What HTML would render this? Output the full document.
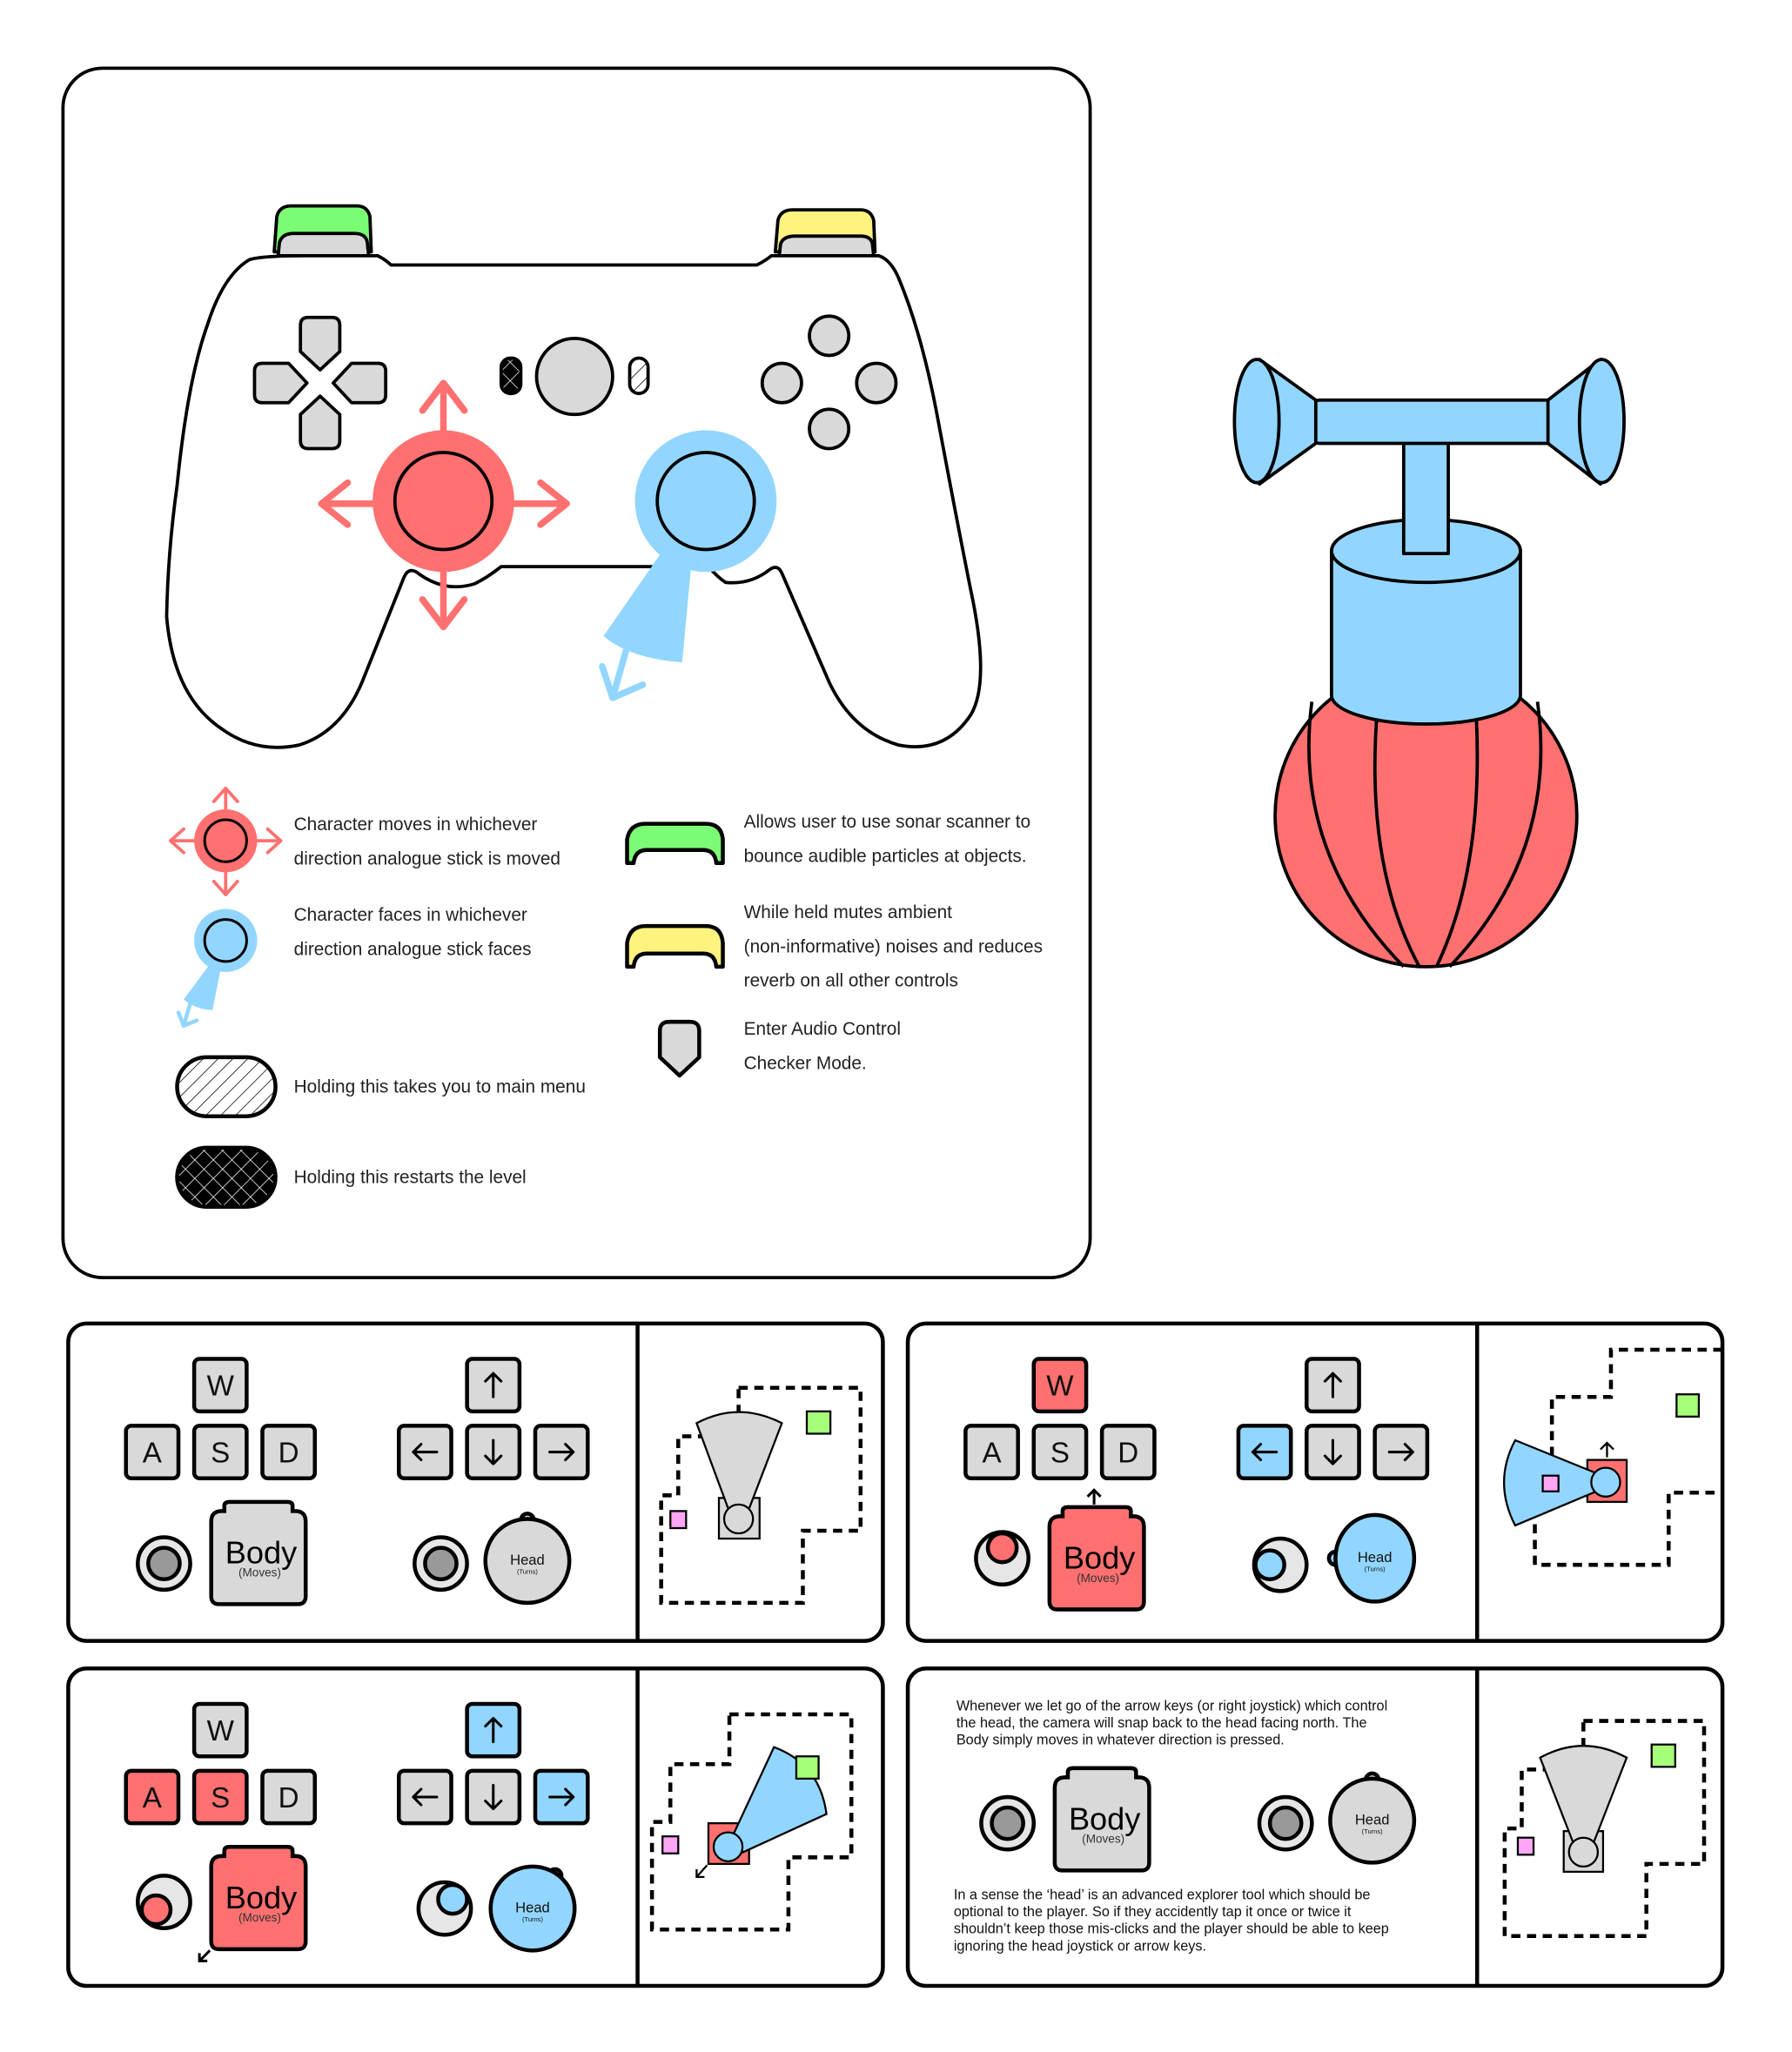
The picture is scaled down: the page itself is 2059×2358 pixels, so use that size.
<!DOCTYPE html>
<html><head><meta charset="utf-8"><style>html,body{margin:0;padding:0;background:#fff}svg{display:block}text{font-family:"Liberation Sans",sans-serif}</style></head><body>
<svg width="2059" height="2358" viewBox="0 0 1366 1564.4" xmlns="http://www.w3.org/2000/svg">
<defs>
<pattern id="hatch" width="8" height="8" patternUnits="userSpaceOnUse" patternTransform="rotate(45)"><rect width="8" height="8" fill="#fff"/><line x1="0" y1="0" x2="0" y2="8" stroke="#000" stroke-width="1"/></pattern>
<pattern id="cross" width="10" height="10" patternUnits="userSpaceOnUse" patternTransform="rotate(45)"><rect width="10" height="10" fill="#000"/><line x1="0" y1="0" x2="0" y2="10" stroke="#fff" stroke-width="1"/><line x1="0" y1="0" x2="10" y2="0" stroke="#fff" stroke-width="1"/></pattern>
<g id="body"><path d="M0,15 Q0,7 8,7 L10,7 L10,3 Q10,0 14,0 L58,0 Q62,0 62,3 L62,7 L64,7 Q72,7 72,15 L72,72 Q72,78 66,78 L6,78 Q0,78 0,72 Z" stroke="#000" stroke-width="3"/></g>
<g id="btxt"><text x="38" y="47" font-size="24" text-anchor="middle">Body</text><text x="37" y="57" font-size="9" text-anchor="middle" fill="#333">(Moves)</text></g>
<path id="arr" d="M0,9 V-9 M-6,-3 L0,-9 L6,-3" fill="none" stroke="#000" stroke-width="2" stroke-linecap="round" stroke-linejoin="round"/>
</defs>
<rect width="1366" height="1565" fill="#fff"/>
<g fill="none" stroke="#000" stroke-width="2.5" stroke-linejoin="round" stroke-linecap="round">
<rect x="48" y="52" width="783" height="922" rx="30"/>
<path d="M209,192 L211,165 Q213,157 222,157 L272,157 Q280,157 282,165 L283,192 Z" fill="#7cfc74"/>
<path d="M212,195 L213,185 Q215,178 224,178 L270,178 Q279,178 280,185 L281,195 Z" fill="#d9d9d9"/>
<path d="M591,192 L593,168 Q595,160 604,160 L656,160 Q664,160 666,168 L667,192 Z" fill="#fff380"/>
<path d="M594,195 L595,186 Q597,180 606,180 L656,180 Q664,180 665,186 L666,195 Z" fill="#d9d9d9"/>
<path d="M232,195 L288,195 Q294,198 298,202 L577,202 Q583,199 588,195 L670,195 Q679,198 685,212 Q703,255 715,320 Q730,400 740,450 Q755,520 740,545 Q720,575 685,568 Q650,558 632,520 L596,437 Q593,430 587,434 Q572,446 553,444 Q547,440 540,432 L382,432 Q372,440 362,445 Q340,452 320,438 Q312,431 308,440 L276,520 Q260,558 228,568 Q195,575 168,555 Q132,530 127,470 Q128,420 135,370 Q143,290 158,248 Q170,210 190,198 Q200,195 232,195 Z" fill="#fff"/>
<path d="M229,248 Q229,242 235,242 L253,242 Q259,242 259,248 L259,268 L244,282 L229,268 Z" fill="#d9d9d9"/>
<path d="M229,336 Q229,342 235,342 L253,342 Q259,342 259,336 L259,316 L244,302 L229,316 Z" fill="#d9d9d9"/>
<path d="M200,277 Q194,277 194,283 L194,301 Q194,307 200,307 L220,307 L234,292 L220,277 Z" fill="#d9d9d9"/>
<path d="M288,277 Q294,277 294,283 L294,301 Q294,307 288,307 L268,307 L254,292 L268,277 Z" fill="#d9d9d9"/>
<circle cx="438" cy="287" r="29" fill="#d9d9d9"/>
<rect x="382" y="273" width="15" height="27" rx="7" fill="url(#cross)"/>
<rect x="480" y="273" width="14" height="27" rx="7" fill="url(#hatch)"/>
<circle cx="632" cy="256" r="15" fill="#d9d9d9"/><circle cx="596" cy="292" r="15" fill="#d9d9d9"/><circle cx="668" cy="292" r="15" fill="#d9d9d9"/><circle cx="632" cy="327" r="15" fill="#d9d9d9"/>
</g>
<g stroke="#ff7070" stroke-width="5" fill="none" stroke-linecap="round" stroke-linejoin="round">
<path d="M338,292 V330 M322,313 L338,292 L354,313"/>
<path d="M338,478 V434 M322,457 L338,478 L354,457"/>
<path d="M245,384 H290 M265,368 L245,384 L265,400"/>
<path d="M432,384 H386 M412,368 L432,384 L412,400"/>
</g>
<circle cx="338" cy="382" r="54" fill="#ff7070"/>
<circle cx="338" cy="382" r="37" fill="#ff7070" stroke="#000" stroke-width="2.5"/>
<path d="M505,420 L460,485 Q480,502 520,505 L527,430 Z" fill="#92d6ff"/>
<g stroke="#92d6ff" stroke-width="5" fill="none" stroke-linecap="round" stroke-linejoin="round"><path d="M478,493 L467,532 M459,508 L467,532 L490,522"/></g>
<circle cx="538" cy="382" r="54" fill="#92d6ff"/>
<circle cx="538" cy="382" r="37" fill="#92d6ff" stroke="#000" stroke-width="2.5"/>
<g stroke="#ff7070" stroke-width="2.5" fill="none" stroke-linecap="round" stroke-linejoin="round">
<path d="M172,601 V620 M163,611 L172,601 L181,611 M172,682 V663 M163,672 L172,682 L181,672 M130,641 H150 M140,632 L130,641 L140,650 M214,641 H194 M204,632 L214,641 L204,650"/>
</g>
<circle cx="172" cy="641" r="24" fill="#ff7070"/>
<circle cx="172" cy="641" r="16" fill="#ff7070" stroke="#000" stroke-width="2"/>
<path d="M160,735 L140,762 Q150,770 162,770 L168,740 Z" fill="#92d6ff"/>
<path d="M145,765 L140,782 M136,772 L140,782 L150,778" stroke="#92d6ff" stroke-width="3" fill="none" stroke-linecap="round"/>
<circle cx="172" cy="717" r="24" fill="#92d6ff"/>
<circle cx="172" cy="717" r="16" fill="#92d6ff" stroke="#000" stroke-width="2"/>
<rect x="135" y="806" width="75" height="45" rx="22.5" fill="url(#hatch)" stroke="#000" stroke-width="3"/>
<rect x="135" y="875" width="75" height="45" rx="22.5" fill="url(#cross)" stroke="#000" stroke-width="3"/>
<g stroke="#000" stroke-width="3" stroke-linejoin="round">
<path d="M478,658 L478,640 Q480,628 492,628 L538,628 Q550,628 551,640 L551,658 L546,658 Q545,648 536,648 L493,648 Q484,648 483,658 Z" fill="#7cfc74"/>
<path d="M478,737 L478,719 Q480,706 492,706 L538,706 Q550,706 551,719 L551,737 L546,737 Q545,727 536,727 L493,727 Q484,727 483,737 Z" fill="#fff380"/>
<path d="M503,786 Q503,779 510,779 L526,779 Q533,779 533,786 L533,806 L518,820 L503,806 Z" fill="#d9d9d9"/>
</g>
<g font-size="13.8" fill="#222">
<text x="224" y="633">Character moves in whichever</text>
<text x="224" y="659">direction analogue stick is moved</text>
<text x="224" y="702">Character faces in whichever</text>
<text x="224" y="728">direction analogue stick faces</text>
<text x="224" y="833">Holding this takes you to main menu</text>
<text x="224" y="902">Holding this restarts the level</text>
<text x="567" y="631">Allows user to use sonar scanner to</text>
<text x="567" y="657">bounce audible particles at objects.</text>
<text x="567" y="700">While held mutes ambient</text>
<text x="567" y="726">(non-informative) noises and reduces</text>
<text x="567" y="752">reverb on all other controls</text>
<text x="567" y="789">Enter Audio Control</text>
<text x="567" y="815">Checker Mode.</text>
</g>
<g stroke="#000" stroke-width="2.5" stroke-linejoin="round">
<circle cx="1087" cy="622" r="115" fill="#ff7070"/>
<path d="M1000,535 Q985,650 1070,737 M1050,540 Q1040,660 1082,737 M1125,540 Q1132,660 1095,737 M1172,535 Q1188,650 1105,737" fill="none"/>
<path d="M1015,420 L1015,530 A72,22 0 0 0 1159,530 L1159,420 Z" fill="#92d6ff"/>
<ellipse cx="1087" cy="420" rx="72" ry="24" fill="#92d6ff"/>
<rect x="1070" y="330" width="34" height="92" fill="#92d6ff"/>
<rect x="1000" y="305" width="188" height="33" rx="6" fill="#92d6ff"/>
<path d="M960,274 L1003,305 L1003,338 L960,369 Z" fill="#92d6ff"/>
<ellipse cx="958" cy="321" rx="17" ry="47" fill="#92d6ff"/>
<path d="M1220,274 L1180,305 L1180,338 L1220,369 Z" fill="#92d6ff"/>
<ellipse cx="1221" cy="321" rx="17" ry="47" fill="#92d6ff"/>
</g>
<g fill="#fff" stroke="#000" stroke-width="3">
<rect x="52" y="1009" width="621" height="242" rx="14"/><line x1="486" y1="1009" x2="486" y2="1251"/>
<rect x="692" y="1009" width="621" height="242" rx="14"/><line x1="1126" y1="1009" x2="1126" y2="1251"/>
<rect x="52" y="1272" width="621" height="242" rx="14"/><line x1="486" y1="1272" x2="486" y2="1514"/>
<rect x="692" y="1272" width="621" height="242" rx="14"/><line x1="1126" y1="1272" x2="1126" y2="1514"/>
</g>
<g stroke="#000" stroke-width="3">
<rect x="148" y="1036" width="40" height="40" rx="4" fill="#d9d9d9"/><rect x="96" y="1087" width="40" height="40" rx="4" fill="#d9d9d9"/><rect x="148" y="1087" width="40" height="40" rx="4" fill="#d9d9d9"/><rect x="200" y="1087" width="40" height="40" rx="4" fill="#d9d9d9"/>
<rect x="356" y="1036" width="40" height="40" rx="4" fill="#d9d9d9"/><rect x="304" y="1087" width="40" height="40" rx="4" fill="#d9d9d9"/><rect x="356" y="1087" width="40" height="40" rx="4" fill="#d9d9d9"/><rect x="408" y="1087" width="40" height="40" rx="4" fill="#d9d9d9"/>
<rect x="788" y="1036" width="40" height="40" rx="4" fill="#ff7070"/><rect x="736" y="1087" width="40" height="40" rx="4" fill="#d9d9d9"/><rect x="788" y="1087" width="40" height="40" rx="4" fill="#d9d9d9"/><rect x="840" y="1087" width="40" height="40" rx="4" fill="#d9d9d9"/>
<rect x="996" y="1036" width="40" height="40" rx="4" fill="#d9d9d9"/><rect x="944" y="1087" width="40" height="40" rx="4" fill="#92d6ff"/><rect x="996" y="1087" width="40" height="40" rx="4" fill="#d9d9d9"/><rect x="1048" y="1087" width="40" height="40" rx="4" fill="#d9d9d9"/>
<rect x="148" y="1299" width="40" height="40" rx="4" fill="#d9d9d9"/><rect x="96" y="1350" width="40" height="40" rx="4" fill="#ff7070"/><rect x="148" y="1350" width="40" height="40" rx="4" fill="#ff7070"/><rect x="200" y="1350" width="40" height="40" rx="4" fill="#d9d9d9"/>
<rect x="356" y="1299" width="40" height="40" rx="4" fill="#92d6ff"/><rect x="304" y="1350" width="40" height="40" rx="4" fill="#d9d9d9"/><rect x="356" y="1350" width="40" height="40" rx="4" fill="#d9d9d9"/><rect x="408" y="1350" width="40" height="40" rx="4" fill="#92d6ff"/>
</g>
<g font-size="22" text-anchor="middle" fill="#111">
<text x="168" y="1064">W</text><text x="116" y="1115">A</text><text x="168" y="1115">S</text><text x="220" y="1115">D</text>
<text x="808" y="1064">W</text><text x="756" y="1115">A</text><text x="808" y="1115">S</text><text x="860" y="1115">D</text>
<text x="168" y="1327">W</text><text x="116" y="1378">A</text><text x="168" y="1378">S</text><text x="220" y="1378">D</text>
</g>
<!-- arrow key glyphs -->
<use href="#arr" transform="translate(376,1056)"/><use href="#arr" transform="translate(324,1107) rotate(-90)"/><use href="#arr" transform="translate(376,1107) rotate(180)"/><use href="#arr" transform="translate(428,1107) rotate(90)"/>
<use href="#arr" transform="translate(1016,1056)"/><use href="#arr" transform="translate(964,1107) rotate(-90)"/><use href="#arr" transform="translate(1016,1107) rotate(180)"/><use href="#arr" transform="translate(1068,1107) rotate(90)"/>
<use href="#arr" transform="translate(376,1319)"/><use href="#arr" transform="translate(324,1370) rotate(-90)"/><use href="#arr" transform="translate(376,1370) rotate(180)"/><use href="#arr" transform="translate(428,1370) rotate(90)"/>
<g stroke="#000" stroke-width="3">
<circle cx="125" cy="1192" r="20" fill="#e6e6e6"/><circle cx="125" cy="1192" r="12" fill="#999"/>
<circle cx="336" cy="1192" r="20" fill="#e6e6e6"/><circle cx="336" cy="1192" r="12" fill="#999"/>
<circle cx="764" cy="1188" r="20" fill="#e6e6e6"/><circle cx="764" cy="1180" r="11" fill="#ff7070"/>
<circle cx="976" cy="1193" r="20" fill="#e6e6e6"/><circle cx="968" cy="1193" r="11" fill="#92d6ff"/>
<circle cx="125" cy="1450" r="20" fill="#e6e6e6"/><circle cx="119" cy="1456" r="11" fill="#ff7070"/>
<circle cx="339" cy="1455" r="20" fill="#e6e6e6"/><circle cx="345" cy="1448" r="11" fill="#92d6ff"/>
<circle cx="768" cy="1390" r="20" fill="#e6e6e6"/><circle cx="768" cy="1390" r="12" fill="#999"/>
<circle cx="980" cy="1390" r="20" fill="#e6e6e6"/><circle cx="980" cy="1390" r="12" fill="#999"/>
</g>
<g transform="translate(161,1145)"><use href="#body" fill="#d9d9d9"/><use href="#btxt"/></g>
<g transform="translate(800,1149)"><use href="#body" fill="#ff7070"/><use href="#btxt"/></g>
<g transform="translate(161,1408)"><use href="#body" fill="#ff7070"/><use href="#btxt"/></g>
<g transform="translate(804,1348)"><use href="#body" fill="#d9d9d9"/><use href="#btxt"/></g>
<g stroke="#000" stroke-width="2" fill="none"><path d="M834,1147 V1136 M829,1141 L834,1136 L839,1141"/><path d="M160,1487 L152,1495 M152,1489 V1495 H158"/></g>
<g stroke="#000" stroke-width="3">
<circle cx="402" cy="1159" r="5" fill="#d9d9d9"/><circle cx="402" cy="1190" r="32" fill="#d9d9d9"/>
<circle cx="1018" cy="1188" r="5" fill="#92d6ff"/><ellipse cx="1048" cy="1188" rx="30" ry="33" fill="#92d6ff"/>
<circle cx="423" cy="1430" r="5" fill="#92d6ff"/><circle cx="406" cy="1455" r="32" fill="#92d6ff"/>
<circle cx="1046" cy="1357" r="5" fill="#d9d9d9"/><circle cx="1046" cy="1388" r="32" fill="#d9d9d9"/>
</g>
<g text-anchor="middle" fill="#111">
<text x="402" y="1193" font-size="11">Head</text><text x="402" y="1200" font-size="5">(Turns)</text>
<text x="1048" y="1191" font-size="11">Head</text><text x="1048" y="1198" font-size="5">(Turns)</text>
<text x="406" y="1458" font-size="11">Head</text><text x="406" y="1465" font-size="5">(Turns)</text>
<text x="1046" y="1391" font-size="11">Head</text><text x="1046" y="1398" font-size="5">(Turns)</text>
</g>
<g fill="none" stroke="#000" stroke-width="3" stroke-dasharray="7,5">
<path d="M563,1058 H656 V1167 H612 V1222 H504 V1140 H517 V1095 H563 Z"/>
<path d="M1313,1029 H1228 V1065 H1183 V1110 H1170 V1193 H1272 V1138 H1313"/>
<path d="M556,1307 H649 V1416 H601 V1471 H497 V1389 H511 V1345 H556 Z"/>
<path d="M1207,1312 H1299 V1421 H1255 V1476 H1147 V1394 H1160 V1349 H1207 Z"/>
</g>
<g stroke="#000" stroke-width="1.5">
<rect x="548" y="1142" width="31" height="31" fill="#d9d9d9"/>
<path d="M531,1085 Q563,1068 596,1085 L568,1158 L558,1158 Z" fill="#d9d9d9"/>
<circle cx="563" cy="1158" r="11" fill="#d9d9d9"/>
<rect x="615" y="1076" width="18" height="17" fill="#a6ff78"/><rect x="511" y="1152" width="12" height="13" fill="#ffa6f5"/>
<rect x="1210" y="1113" width="30" height="32" fill="#ff7070"/>
<path d="M1155,1098 Q1138,1130 1155,1163 L1224,1134 L1224,1126 Z" fill="#92d6ff"/>
<circle cx="1224" cy="1130" r="11" fill="#92d6ff"/>
<rect x="1176" y="1125" width="12" height="12" fill="#ffa6f5"/><rect x="1278" y="1063" width="17" height="17" fill="#a6ff78"/>
<rect x="540" y="1390" width="31" height="31" fill="#ff7070"/>
<path d="M556,1405 L590,1332 Q625,1345 630,1383 L560,1415 Z" fill="#92d6ff"/>
<circle cx="555" cy="1408" r="11" fill="#92d6ff"/>
<rect x="607" y="1339" width="17" height="17" fill="#a6ff78"/><rect x="505" y="1400" width="12" height="13" fill="#ffa6f5"/>
<rect x="1192" y="1396" width="30" height="31" fill="#d9d9d9"/>
<path d="M1174,1340 Q1207,1322 1240,1340 L1212,1412 L1202,1412 Z" fill="#d9d9d9"/>
<circle cx="1207" cy="1412" r="11" fill="#d9d9d9"/>
<rect x="1259" y="1330" width="18" height="17" fill="#a6ff78"/><rect x="1157" y="1401" width="12" height="13" fill="#ffa6f5"/>
</g>
<g stroke="#000" stroke-width="1.5" fill="none"><path d="M1225,1111 V1100 M1220,1105 L1225,1100 L1230,1105"/><path d="M539,1422 L531,1431 M531,1425 V1431 H537"/></g>
<g font-size="10.8" fill="#111">
<text x="729" y="1304">Whenever we let go of the arrow keys (or right joystick) which control</text>
<text x="729" y="1317">the head, the camera will snap back to the head facing north. The</text>
<text x="729" y="1330">Body simply moves in whatever direction is pressed.</text>
<text x="727" y="1448">In a sense the ‘head’ is an advanced explorer tool which should be</text>
<text x="727" y="1461">optional to the player. So if they accidently tap it once or twice it</text>
<text x="727" y="1474">shouldn’t keep those mis-clicks and the player should be able to keep</text>
<text x="727" y="1487">ignoring the head joystick or arrow keys.</text>
</g>
</svg>
</body></html>
